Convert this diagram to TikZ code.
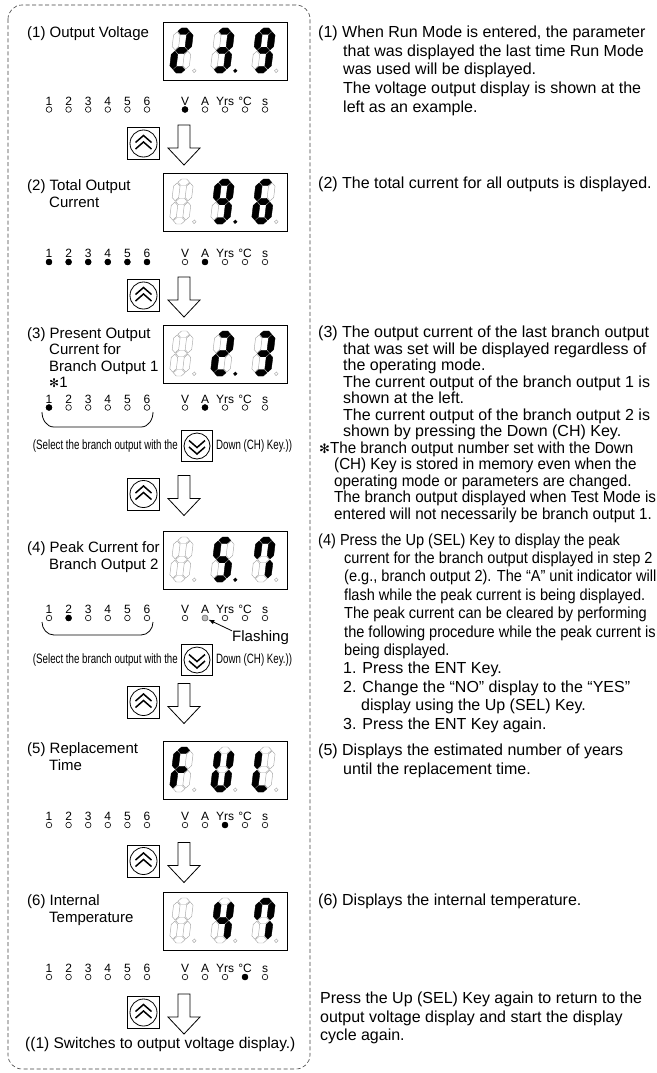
\documentclass[tikz,border=0pt]{standalone}
\usepackage{fontspec}
\setmainfont{Liberation Sans}
\newfontfamily\symfont{DejaVu Sans}
\newfontfamily\narrowsans[FakeStretch=0.91]{Liberation Sans}
\newfontfamily\semisans[FakeStretch=0.95]{Liberation Sans}
\newfontfamily\condsans[FakeStretch=0.72]{Liberation Sans}
\usetikzlibrary{arrows.meta}

% seven-segment pieces (origin bottom left, y up, before slant)
\newcommand{\dsega}{(3.95,41.75) -- (7.2,45) -- (12.3,45) -- (15.55,41.75) -- (12.3,38.5) -- (7.2,38.5) -- cycle}
\newcommand{\dsegb}{(16.25,23.2) -- (19.5,26.45) -- (19.5,37.8) -- (16.25,41.05) -- (13,37.8) -- (13,26.45) -- cycle}
\newcommand{\dsegc}{(16.25,3.95) -- (19.5,7.2) -- (19.5,18.55) -- (16.25,21.8) -- (13,18.55) -- (13,7.2) -- cycle}
\newcommand{\dsegd}{(3.95,3.25) -- (7.2,6.5) -- (12.3,6.5) -- (15.55,3.25) -- (12.3,0) -- (7.2,0) -- cycle}
\newcommand{\dsege}{(3.25,3.95) -- (6.5,7.2) -- (6.5,18.55) -- (3.25,21.8) -- (0,18.55) -- (0,7.2) -- cycle}
\newcommand{\dsegf}{(3.25,23.2) -- (6.5,26.45) -- (6.5,37.8) -- (3.25,41.05) -- (0,37.8) -- (0,26.45) -- cycle}
\newcommand{\dsegg}{(3.95,22.5) -- (7.2,25.75) -- (12.3,25.75) -- (15.55,22.5) -- (12.3,19.25) -- (7.2,19.25) -- cycle}
\newcommand{\dsegnone}{(0,0)}

% one digit: origin, lit segments, style of its decimal point
\newcommand{\segdigit}[3]{%
  \begin{scope}[shift={#1}, yscale=-1, xslant=-0.12]
    \foreach \s in {a,b,c,d,e,f,g} {\draw[segoff] \csname dseg\s\endcsname;}
    \foreach \s in {#2} {\fill[segon] \csname dseg\s\endcsname;}
    \draw[#3] (25,2.2) circle (1.8pt);
  \end{scope}}

% three-digit readout: name, top of box, digits, middle decimal point
\newcommand{\readout}[6]{%
  \node[dispbox, anchor=north west] (#1) at (163,#2) {};
  \segdigit{(169,#2+51)}{#3}{segdp}
  \segdigit{(210,#2+51)}{#4}{#6}
  \segdigit{(251,#2+51)}{#5}{segdp}}

% indicator row: name, y, lit outputs (0 = none), lit unit, its style
\newcommand{\ledrow}[5]{%
  \foreach \idx in {1,...,6} {
    \node[ledtext] (#1-n\idx) at ({49+19.6*(\idx-1)}, #2-4.5) {\idx};
    \node[ledoff] (#1-o\idx) at ({49+19.6*(\idx-1)}, #2) {};
  }
  \foreach \idx in {#3} {
    \ifnum\idx>0 \node[ledon] (#1-o\idx) at ({49+19.6*(\idx-1)}, #2) {};\fi
  }
  \foreach \utxt [count=\j] in {V,A,Yrs,°C,s} {
    \node[ledtext] (#1-t\j) at ({185+20*(\j-1)}, #2-4.5) {\utxt};
    \node[ledoff] (#1-u\j) at ({185+20*(\j-1)}, #2) {};
  }
  \node[#5] (#1-u#4) at ({185+20*(#4-1)}, #2) {};}

\newcommand{\textlines}[1]{\begin{tabular}[t]{@{}l@{}}#1\end{tabular}}
\newcommand{\ind}[1]{\hspace*{#1pt}}

\tikzset{
  dashframe/.style={draw=black!75, line width=0.6pt, dash pattern=on 4pt off 2.5pt, rounded corners=14pt},
  dispbox/.style={draw, line width=0.9pt, minimum width=124pt, minimum height=58pt, inner sep=0pt},
  segoff/.style={draw=black!35, line width=0.45pt},
  segon/.style={fill=black, draw=black, line width=0.3pt},
  segdp/.style={draw=black!35, line width=0.45pt},
  segdpon/.style={fill=black},
  ledtext/.style={font=\fontsize{12}{12}\selectfont, inner sep=0pt, anchor=base},
  ledoff/.style={circle, draw, line width=0.6pt, fill=white, minimum size=5.6pt, inner sep=0pt},
  ledon/.style={circle, fill=black, minimum size=6.4pt, inner sep=0pt},
  ledflash/.style={circle, draw=black!50, line width=0.6pt, fill=black!25, minimum size=5.8pt, inner sep=0pt},
  steplabel/.style={font=\fontsize{15}{17}\selectfont, inner sep=0pt, anchor=base west},
  rtext/.style={font=\fontsize{16}{18.7}\selectfont, inner sep=0pt, anchor=base west},
  condtext/.style={font=\condsans\fontsize{13.5}{15}\selectfont, inner sep=0pt},
  bracket/.style={line width=0.8pt},
  pointer/.style={line width=0.8pt, -{Latex[length=6pt,width=4.5pt]}, shorten >=0.5pt},
  keyline/.style={line width=0.8pt},
  chevron/.style={line width=1.5pt, line join=miter},
  hollowarrow/.style={draw, line width=0.8pt, fill=white},
  nextstep/.pic={
    \draw[keyline] (-16,-16) rectangle (16,16);
    \draw[keyline] (0,0) circle (13.5pt);
    \draw[chevron] (-8,-1) -- (0,-8) -- (8,-1);
    \draw[chevron] (-8,5.5) -- (0,-1.5) -- (8,5.5);
    \draw[hollowarrow] (34.5,-18.5) -- (46.5,-18.5) -- (46.5,4.5) -- (56.5,4.5)
      -- (40.5,21.5) -- (24.5,4.5) -- (34.5,4.5) -- cycle;
  },
  downkey/.pic={
    \draw[keyline] (-15.5,-15.5) rectangle (15.5,15.5);
    \draw[keyline] (0,0) circle (13pt);
    \draw[chevron] (-8,1) -- (0,8) -- (8,1);
    \draw[chevron] (-8,-5.5) -- (0,1.5) -- (8,-5.5);
  }
}

\begin{document}
\begin{tikzpicture}[x=1pt, y=-1pt]
  \useasboundingbox (0,0) rectangle (656,1073);

  % Frame round the display sequence
  \draw[dashframe] (8,5) rectangle (310,1069);

  % 1. Output voltage
  \node[steplabel] (l1) at (27,37.5) {\textlines{(1) Output Voltage}};
  \readout{disp1}{22}{a,b,g,e,d}{a,b,g,c,d}{a,b,c,d,f,g}{segdpon}
  \ledrow{r1}{109.5}{0}{1}{ledon}
  \pic at (143.5,143.5) {nextstep};

  % 2. Total output current
  \node[steplabel] (l2) at (27,190) {\textlines{(2) Total Output\\ \ind{22}Current}};
  \readout{disp2}{173}{none}{a,b,c,d,f,g}{a,f,g,e,d,c}{segdpon}
  \ledrow{r2}{262}{1,2,3,4,5,6}{2}{ledon}
  \pic at (143.5,295.5) {nextstep};

  % 3. Present output current for branch output 1
  \node[steplabel, font=\fontsize{15}{16.3}\selectfont] (l3) at (27,338.5)
    {\textlines{(3) Present Output\\ \ind{22}Current for\\ \ind{22}Branch Output 1\\
     \ind{22}{\symfont\fontsize{12}{12}\selectfont ✻}1}};
  \readout{disp3}{325}{none}{a,b,g,e,d}{a,b,g,c,d}{segdpon}
  \ledrow{r3}{407.5}{1}{2}{ledon}
  \draw[bracket] (42,412) to[out=-90, in=180] (54,427) -- (141,427) to[out=0, in=-90] (153,412);
  \node[condtext, anchor=east] (sel3) at (178,446) {(Select the branch output with the};
  \pic at (197,446) {downkey};
  \node[condtext, anchor=west] (key3) at (216,446) {Down (CH) Key.))};
  \pic at (143.5,494) {nextstep};

  % 4. Peak current for branch output 2
  \node[steplabel] (l4) at (27,552) {\textlines{(4) Peak Current for\\ \ind{22}Branch Output 2}};
  \readout{disp4}{531}{none}{a,f,g,c,d}{a,b,c,f}{segdpon}
  \ledrow{r4}{618}{2}{2}{ledflash}
  \draw[bracket] (42,622) to[out=-90, in=180] (54,635) -- (141,635) to[out=0, in=-90] (153,622);
  \node[steplabel, anchor=west] (flash) at (232,638) {Flashing};
  \draw[pointer] (flash.north west) -- (r4-u2);
  \node[condtext, anchor=east] (sel4) at (178,660) {(Select the branch output with the};
  \pic at (197,660) {downkey};
  \node[condtext, anchor=west] (key4) at (216,660) {Down (CH) Key.))};
  \pic at (143.5,702) {nextstep};

  % 5. Replacement time
  \node[steplabel] (l5) at (27,753) {\textlines{(5) Replacement\\ \ind{22}Time}};
  \readout{disp5}{741}{a,f,g,e}{b,c,d,e,f}{f,e,d}{segdp}
  \ledrow{r5}{825}{0}{3}{ledon}
  \pic at (143.5,861) {nextstep};

  % 6. Internal temperature
  \node[steplabel] (l6) at (27,905) {\textlines{(6) Internal\\ \ind{22}Temperature}};
  \readout{disp6}{892}{none}{f,g,b,c}{a,b,c,f}{segdp}
  \ledrow{r6}{977}{0}{4}{ledon}
  \pic at (143.5,1012.5) {nextstep};
  \node[steplabel, font=\fontsize{15.5}{17}\selectfont] (back) at (25,1048.5)
    {((1) Switches to output voltage display.)};

  % Explanations on the right
  \node[rtext] (t1) at (318,37.5) {\textlines{%
    (1) When Run Mode is entered, the parameter\\
    \ind{25}that was displayed the last time Run Mode\\
    \ind{25}was used will be displayed.\\
    \ind{25}The voltage output display is shown at the\\
    \ind{25}left as an example.}};
  \node[rtext] (t2) at (318,188) {(2) The total current for all outputs is displayed.};
  \node[rtext, font=\fontsize{16}{16.5}\selectfont] (t3) at (318,337.5) {\textlines{%
    (3) The output current of the last branch output\\
    \ind{25}that was set will be displayed regardless of\\
    \ind{25}the operating mode.\\
    \ind{25}The current output of the branch output 1 is\\
    \ind{25}shown at the left.\\
    \ind{25}The current output of the branch output 2 is\\
    \ind{25}shown by pressing the Down (CH) Key.}};
  \node[rtext, font=\semisans\fontsize{16}{16.5}\selectfont] (t3b) at (319,453) {\textlines{%
    {\symfont\fontsize{13}{13}\selectfont ✻}The branch output number set with the Down\\
    \ind{15}(CH) Key is stored in memory even when the\\
    \ind{15}operating mode or parameters are changed.\\
    \ind{15}The branch output displayed when Test Mode is\\
    \ind{15}entered will not necessarily be branch output 1.}};
  \node[rtext, font=\narrowsans\fontsize{16}{18.4}\selectfont] (t4) at (318,545) {\textlines{%
    (4) Press the Up (SEL) Key to display the peak\\
    \ind{26}current for the branch output displayed in step 2\\
    \ind{26}(e.g., branch output 2). The “A” unit indicator will\\
    \ind{26}flash while the peak current is being displayed.\\
    \ind{26}The peak current can be cleared by performing\\
    \ind{26}the following procedure while the peak current is\\
    \ind{26}being displayed.}};
  \node[rtext, font=\fontsize{16}{18.4}\selectfont] (t4b) at (318,673.8) {\textlines{%
    \ind{25}1. Press the ENT Key.\\
    \ind{25}2. Change the “NO” display to the “YES”\\
    \ind{43}display using the Up (SEL) Key.\\
    \ind{25}3. Press the ENT Key again.}};
  \node[rtext] (t5) at (318,755.5) {\textlines{%
    (5) Displays the estimated number of years\\
    \ind{25}until the replacement time.}};
  \node[rtext] (t6) at (318,905.5) {(6) Displays the internal temperature.};
  \node[rtext, font=\fontsize{16}{18.5}\selectfont] (t7) at (320,1003.5) {\textlines{%
    Press the Up (SEL) Key again to return to the\\
    output voltage display and start the display\\
    cycle again.}};
\end{tikzpicture}
\end{document}
